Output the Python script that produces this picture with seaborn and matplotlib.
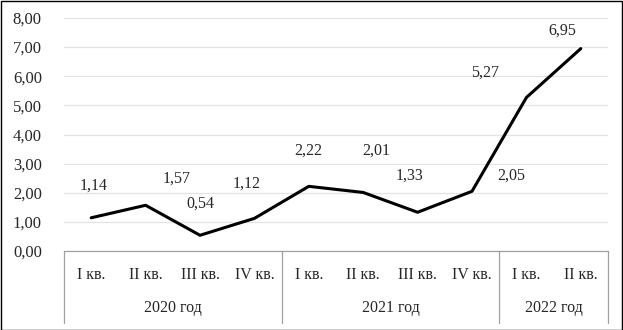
import numpy as np
import pandas as pd
import matplotlib
matplotlib.use("Agg")
import matplotlib.pyplot as plt
import matplotlib.transforms as mtransforms
from matplotlib.patches import Rectangle
import seaborn as sns

quarters = ["I кв.", "II кв.", "III кв.", "IV кв.", "I кв.", "II кв.", "III кв.", "IV кв.", "I кв.", "II кв."]
years = ["2020 год", "2021 год", "2022 год"]
year_sizes = [4, 4, 2]
values = [1.14, 1.57, 0.54, 1.12, 2.22, 2.01, 1.33, 2.05, 5.27, 6.95]
y_ticks = [0, 1, 2, 3, 4, 5, 6, 7, 8]

# label offsets in points (styling only)
label_offsets = [(1.4, 23), (22, 19.4), (0, 23), (-5.8, 25), (-0.7, 26), (9.4, 30),
                 (-5.8, 26.6), (28, 11.5), (-30, 18), (-13, 13)]

sns.set_theme(style="white")
plt.rcParams["font.family"] = ["Liberation Serif", "DejaVu Serif"]
plt.rcParams["font.size"] = 10.5

fig = plt.figure(figsize=(6.23, 3.30), dpi=100)
ax = fig.add_axes([64/623, 1 - 251/330, (608 - 64)/623, (251 - 18)/330])

df = pd.DataFrame({"x": np.arange(len(values)), "y": values})
sns.lineplot(data=df, x="x", y="y", ax=ax, color="black", linewidth=2.2)

ax.set_xlim(-0.5, len(values) - 0.5)
ax.set_ylim(0, 8)
ax.set_yticks(y_ticks)
ax.set_yticklabels([f"{v:.2f}".replace(".", ",") for v in y_ticks], fontsize=12)
ax.tick_params(axis="y", length=0, pad=16)
ax.set_xticks([])
ax.set_xlabel("")
ax.set_ylabel("")
for s in ["left", "right", "top"]:
    ax.spines[s].set_visible(False)
ax.spines["bottom"].set_color("#a0a0a0")
ax.spines["bottom"].set_linewidth(0.9)
ax.grid(axis="y", color="#e3e3e3", linewidth=0.9)
ax.set_axisbelow(True)

for i, (v, off) in enumerate(zip(values, label_offsets)):
    ax.annotate(f"{v:.2f}".replace(".", ","), (i, v), xytext=off, textcoords="offset points",
                ha="center", va="center", fontsize=11.5)

trans = mtransforms.blended_transform_factory(ax.transData, ax.transAxes)
bottom = -(323 - 251) / 233
boundaries = [-0.5]
for n in year_sizes:
    boundaries.append(boundaries[-1] + n)
for b in boundaries:
    ax.plot([b, b], [0, bottom], transform=trans, color="#a0a0a0", lw=0.9, clip_on=False)
for i, q in enumerate(quarters):
    ax.text(i, -(275 - 251) / 233, q, transform=trans, ha="center", va="center", fontsize=11.5)
for k, yname in enumerate(years):
    c = (boundaries[k] + boundaries[k + 1]) / 2
    ax.text(c, -(308 - 251) / 233, yname, transform=trans, ha="center", va="center", fontsize=11.5)

fig.patches.append(Rectangle((0.5/623, 0.5/330), 1 - 1.5/623, 1 - 1.5/330, transform=fig.transFigure,
                             fill=False, edgecolor="black", linewidth=1.0))

fig.savefig("out.png", dpi=100)
